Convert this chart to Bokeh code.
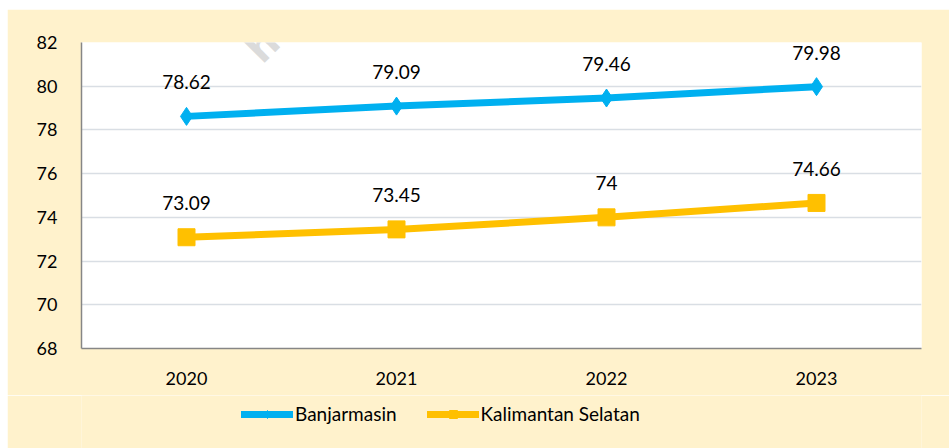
from bokeh.plotting import figure
from bokeh.layouts import column
from bokeh.models import ColumnDataSource, LabelSet, Legend, LegendItem, Label, FactorRange
from bokeh.core.properties import value
from bokeh.embed import file_html
from bokeh.resources import INLINE

years = ["2020", "2021", "2022", "2023"]
banjarmasin = [78.62, 79.09, 79.46, 79.98]
kalsel = [73.09, 73.45, 74, 74.66]
banjarmasin_labels = ["78.62", "79.09", "79.46", "79.98"]
kalsel_labels = ["73.09", "73.45", "74", "74.66"]
y_ticks = [68, 70, 72, 74, 76, 78, 80, 82]
series_names = ["Banjarmasin", "Kalimantan Selatan"]

FONT = "Lato"
BLUE = "#00B0F0"
GOLD = "#FFC000"
BG = "#FFF2CC"

p = figure(width=942, height=386, output_backend="svg", toolbar_location=None,
           x_range=FactorRange(*years), y_range=(68, 82),
           background_fill_color="white", border_fill_color=BG,
           min_border_left=74, min_border_right=28, min_border_top=33, min_border_bottom=47)
p.outline_line_color = None

src_b = ColumnDataSource(dict(x=years, y=banjarmasin, t=banjarmasin_labels))
src_k = ColumnDataSource(dict(x=years, y=kalsel, t=kalsel_labels))


def draw(fig):
    lb = fig.line("x", "y", source=src_b, line_color=BLUE, line_width=7, line_cap="round", line_join="round")
    mb = fig.scatter("x", "y", source=src_b, marker="diamond", size=18, fill_color=BLUE, line_color=BLUE)
    lk = fig.line("x", "y", source=src_k, line_color=GOLD, line_width=7, line_cap="round", line_join="round")
    mk = fig.scatter("x", "y", source=src_k, marker="square", size=17, fill_color=GOLD, line_color=GOLD)
    return (lb, mb), (lk, mk)


draw(p)

for s in (src_b, src_k):
    p.add_layout(LabelSet(x="x", y="y", text="t", source=s, y_offset=34, text_align="center",
                          text_baseline="middle", text_font=value(FONT), text_font_size="19px",
                          text_color="#000000"))

# axes
p.yaxis.ticker = y_ticks
p.ygrid.ticker = y_ticks
p.xgrid.grid_line_color = None
p.ygrid.grid_line_color = "#D9DEE4"
p.ygrid.grid_line_width = 1.5
for ax in (p.xaxis[0], p.yaxis[0]):
    ax.axis_line_color = "#868686"
    ax.axis_line_width = 1.5
    ax.major_tick_line_color = None
    ax.minor_tick_line_color = None
    ax.major_label_text_font = FONT
    ax.major_label_text_font_size = "18px"
    ax.major_label_text_color = "#000000"
p.yaxis.major_label_standoff = 18
p.xaxis.major_label_standoff = 17

p.add_layout(Label(x=187, y=277, x_units="screen", y_units="screen", text="http",
                   angle=45, angle_units="deg", text_font="DejaVu Sans", text_font_style="bold",
                   text_font_size="40px", text_color="#C4C4C4", text_alpha=0.6))

# legend strip (series drawn out of its visible range; only the legend shows)
p2 = figure(width=942, height=53, output_backend="svg", toolbar_location=None,
            x_range=FactorRange(*years), y_range=(0, 1),
            x_axis_location=None, y_axis_location=None,
            background_fill_color=BG, border_fill_color=BG, min_border=0)
p2.outline_line_color = None
p2.grid.grid_line_color = None
rb, rk = draw(p2)

legend = Legend(items=[LegendItem(label=series_names[0], renderers=list(rb)),
                       LegendItem(label=series_names[1], renderers=list(rk))],
                orientation="horizontal", location=(160, 23),
                background_fill_alpha=0, border_line_color=None,
                label_text_font=FONT, label_text_font_size="19px", label_text_color="#000000",
                glyph_width=52, glyph_height=20, spacing=30, label_standoff=2,
                padding=0, margin=0)
p2.add_layout(legend, "center")

layout = column(p, p2, spacing=0, margin=(9, 0, 0, 7))

open("out.html", "w").write(file_html(layout, INLINE))
